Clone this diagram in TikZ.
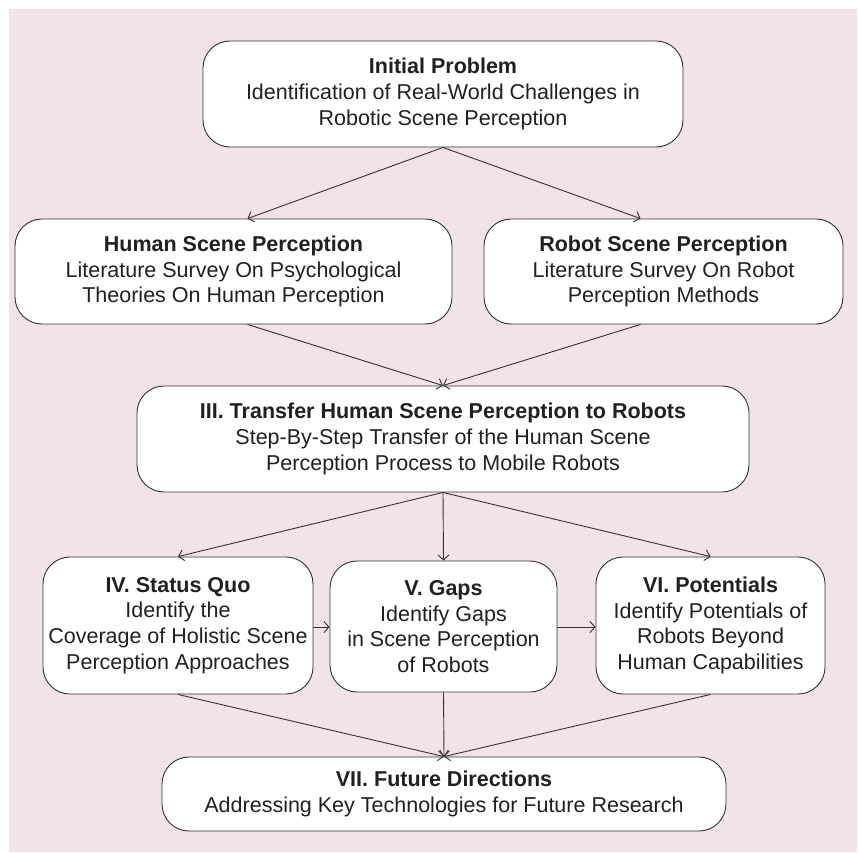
\documentclass[tikz,border=0pt]{standalone}
\usepackage{fontspec}
\setmainfont{Liberation Sans}
\usetikzlibrary{arrows.meta,calc}
\definecolor{bgpink}{HTML}{F2E3EA}
\definecolor{linegray}{HTML}{333333}
\definecolor{txt}{HTML}{231F20}
\begin{document}
\begin{tikzpicture}[x=1pt,y=-1pt,
  box/.style={draw=linegray, line width=0.9pt, fill=white, rounded corners=27pt,
    align=center, text=txt, font=\fontsize{21.5}{25.8}\selectfont, inner sep=1pt},
  conn/.style={draw=linegray, line width=0.9pt, -{Straight Barb[length=5pt,width=11pt]}}]
\useasboundingbox (0,0) rectangle (859,853);
\fill[bgpink] (9,9) rectangle (857,852);

\node[box, minimum width=480pt, minimum height=106pt] (top) at (443,94)
  {\textbf{Initial Problem}\\Identification of Real-World Challenges in\\Robotic Scene Perception};
\node[box, minimum width=437pt, minimum height=105pt] (hum) at (233.5,271.5)
  {\textbf{Human Scene Perception}\\Literature Survey On Psychological\\Theories On Human Perception};
\node[box, minimum width=359pt, minimum height=105pt] (rob) at (663.5,271.5)
  {\textbf{Robot Scene Perception}\\Literature Survey On Robot\\Perception Methods};
\node[box, minimum width=612pt, minimum height=106pt] (three) at (443,439)
  {\textbf{III. Transfer Human Scene Perception to Robots}\\Step-By-Step Transfer of the Human Scene\\Perception Process to Mobile Robots};
\node[box, minimum width=270pt, minimum height=137pt] (four) at (178,625.5)
  {\textbf{IV. Status Quo}\\Identify the\\Coverage of Holistic Scene\\Perception Approaches};
\node[box, minimum width=227pt, minimum height=131pt] (five) at (443.5,626.5)
  {\textbf{V. Gaps}\\Identify Gaps\\in Scene Perception\\of Robots};
\node[box, minimum width=229pt, minimum height=137pt] (six) at (710.5,625.5)
  {\textbf{VI. Potentials}\\Identify Potentials of\\Robots Beyond\\Human Capabilities};
\node[box, minimum width=564pt, minimum height=74pt] (seven) at (444,794)
  {\textbf{VII. Future Directions}\\Addressing Key Technologies for Future Research};

\draw[conn] (top.south) -- ($(hum.north)+(14,0)$);
\draw[conn] (top.south) -- ($(rob.north)+(-23,0)$);
\draw[conn] ($(hum.south)+(14,0)$) -- (three.north);
\draw[conn] ($(rob.south)+(-23,0)$) -- (three.north);
\draw[conn] (three.south) -- (four.north);
\draw[conn] (three.south) -- (five.north);
\draw[conn] (three.south) -- (six.north);
\draw[conn] (four.east |- 0,627) -- (five.west |- 0,627);
\draw[conn] (five.east |- 0,627) -- (six.west |- 0,627);
\draw[conn] (four.south) -- (seven.north);
\draw[conn] (five.south) -- (seven.north);
\draw[conn] (six.south) -- (seven.north);
\end{tikzpicture}
\end{document}
